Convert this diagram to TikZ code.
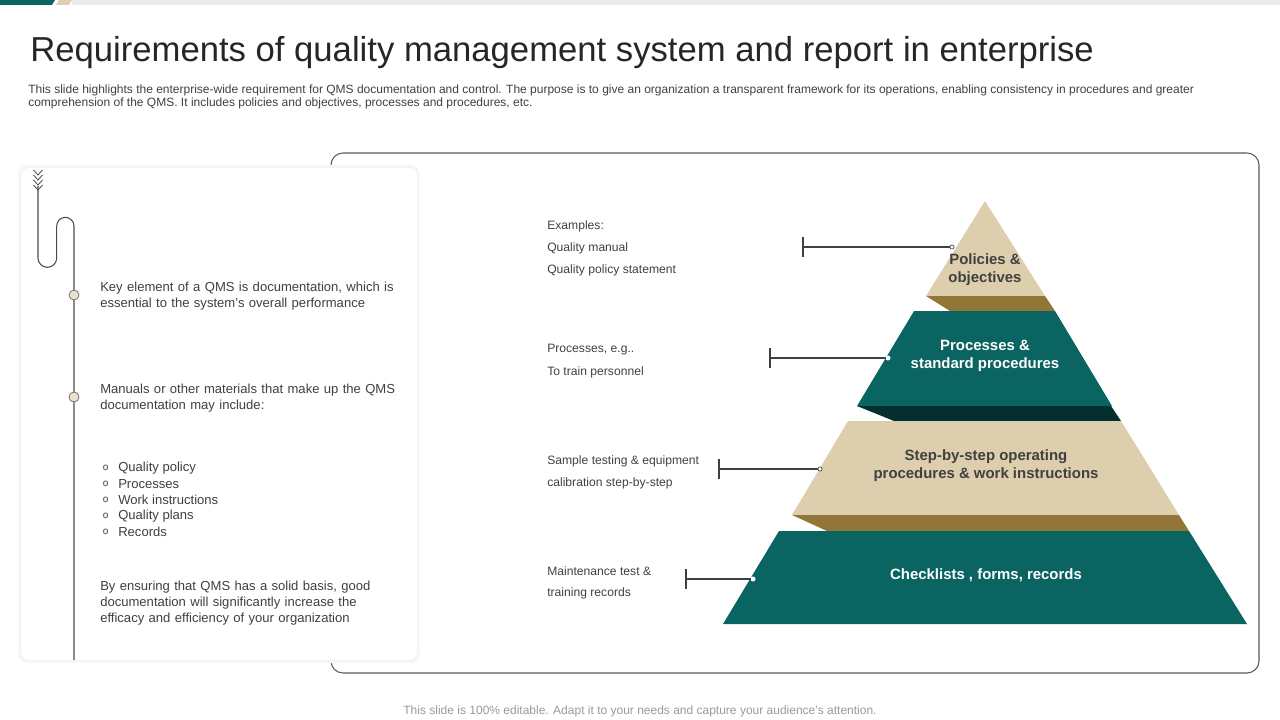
\documentclass[tikz,border=0pt]{standalone}
\usepackage{fontspec}
\setmainfont{Liberation Sans}
\usetikzlibrary{positioning, calc}

\definecolor{qteal}{HTML}{0A6462}
\definecolor{qtealdark}{HTML}{03302F}
\definecolor{qbeige}{HTML}{DDCFAD}
\definecolor{qbrown}{HTML}{927637}
\definecolor{qtext}{HTML}{404040}
\definecolor{qgray}{HTML}{ECECEC}

\hyphenpenalty=10000
\exhyphenpenalty=10000

\begin{document}
\begin{tikzpicture}[x=0.75pt, y=-0.75pt, font=\small,
        tierlabel/.style={align=center, inner sep=0pt, font=\fontsize{11.2}{13.5}\selectfont\bfseries},
        note/.style={anchor=west, inner sep=0pt, text=qtext, font=\fontsize{9.1}{10}\selectfont},
        para/.style={anchor=base west, inner sep=0pt, text width=226pt, align=left, text=qtext, font=\fontsize{9.8}{12}\selectfont},
        ring/.style={circle, draw=qtext, fill=white, inner sep=0pt, minimum size=3.2pt, line width=0.5pt},
        knob/.style={circle, draw=black!55, fill=qbeige!60, inner sep=0pt, minimum size=7.5pt, line width=0.6pt},
        leader/.style={draw=qtext, line width=0.8pt}]

      \useasboundingbox (0,0) rectangle (1280,720);

      % 1. Header strip and title
      \fill[qgray] (72,0) rectangle (1280,5);
      \fill[qteal] (0,0) -- (55,0) -- (52,5) -- (0,5) -- cycle;
      \fill[qbeige] (59,0) -- (72,0) -- (69,5) -- (56,5) -- cycle;
      \node[anchor=base west, inner sep=0pt, font=\fontsize{26}{30}\selectfont, text=black!85] (title) at (30,62) {Requirements of quality management system and report in enterprise};
      \node[anchor=base west, inner sep=0pt, font=\fontsize{9}{10}\selectfont, text=qtext] (desc1) at (28,94) {This slide highlights the enterprise-wide requirement for QMS  documentation and control. The purpose is to give an organization a transparent framework for its operations, enabling consistency in procedures and greater};
      \node[anchor=base west, inner sep=0pt, font=\fontsize{9}{10}\selectfont, text=qtext] (desc2) at (28,107) {comprehension of the QMS.  It includes policies and objectives, processes and procedures, etc.};

      % 2. Right frame (behind the card)
      \draw[black!65, rounded corners=9pt, line width=0.8pt] (331,153) rectangle (1259,673);

      % 3. Left card with timeline
      \fill[black!3, rounded corners=7pt] (18,165) rectangle (420,663);
      \fill[black!5, rounded corners=6pt] (20,167) rectangle (418,661);
      \fill[white, rounded corners=6pt] (21,168) rectangle (417,660);
      \foreach \i in {0,...,3}
        \draw[black!70, line width=0.6pt] (33.5,170+5*\i) -- (38,175+5*\i) -- (42.5,170+5*\i);
      \draw[black!70, line width=0.8pt] (38,186) -- (38,258)
        arc[start angle=180, end angle=0, radius=9.35] -- (56.7,226)
        arc[start angle=180, end angle=360, radius=8.65] -- (74,660);
      \node[knob] (k1) at (74,295) {};
      \node[knob] (k2) at (74,397) {};

      \node[para] (p1) at (100,291) {Key element of a QMS is documentation, which is essential to the system's overall  performance};
      \node[para] (p2) at (100,393) {Manuals or other materials that make up the QMS documentation may include:};
      \foreach \t [count=\k] in {Quality policy, Processes, Work instructions, Quality plans, Records} {
        \node[anchor=west, inner sep=0pt, text=qtext, font=\fontsize{9.8}{12}\selectfont] (b\k) at (118,452+16*\k) {\t};
        \node[left=7pt of b\k.west, inner sep=0pt, text=qtext, font=\fontsize{7.5}{8}\selectfont] (o\k) {o};
      }
      \node[para] (p3) at (100,590) {By ensuring that QMS has a solid basis, good documentation will significantly increase the efficacy and efficiency of your organization};

      % 4. Pyramid
      \fill[qbeige] (985,201) -- (1045,296) -- (926,296) -- cycle;
      \fill[qbrown] (926,296) -- (1045,296) -- (1055,311) -- (950,311) -- cycle;
      \fill[qteal] (914,311) -- (1055,311) -- (1112,406) -- (857,406) -- cycle;
      \fill[qtealdark] (857,406) -- (1111,406) -- (1121,421) -- (894,421) -- cycle;
      \fill[qbeige] (848,421) -- (1121,421) -- (1179,515) -- (792,515) -- cycle;
      \fill[qbrown] (792,515) -- (1179,515) -- (1189,531) -- (827,531) -- cycle;
      \fill[qteal] (779,531) -- (1189,531) -- (1247,624) -- (723,624) -- cycle;

      \node[tierlabel, text=black!75] (tier1) at (985,270) {Policies \&\\objectives};
      \node[tierlabel, text=white] (tier2) at (985,356) {Processes \&\\standard procedures};
      \node[tierlabel, text=black!75] (tier3) at (986,466) {Step-by-step operating\\procedures \& work instructions};
      \node[tierlabel, text=white] (tier4) at (986,575) {Checklists , forms, records};

      % 5. Notes and leaders
      \node[note] (n1a) at (547,226) {Examples:};
      \node[note] (n1b) at (547,248) {Quality manual};
      \node[note] (n1c) at (547,270) {Quality policy statement};
      \node[note] (n2a) at (547,350) {Processes, e.g..};
      \node[note] (n2b) at (547,372) {To train personnel};
      \node[note] (n3a) at (547,461) {Sample testing \& equipment};
      \node[note] (n3b) at (547,483) {calibration step-by-step};
      \node[note] (n4a) at (547,571) {Maintenance test \&};
      \node[note] (n4b) at (547,593) {training records};

      \coordinate (l1) at (803,247);
      \coordinate (l2) at (770,358);
      \coordinate (l3) at (719,469);
      \coordinate (l4) at (686,579);
      \node[ring] (r1) at (952,247) {};
      \node[ring, draw=white] (r2) at (888,358) {};
      \node[ring] (r3) at (820,469) {};
      \node[ring, draw=white] (r4) at (753,579) {};
      \foreach \k in {1,...,4} {
        \draw[leader] (l\k) -- (r\k);
        \draw[leader] ($(l\k)+(0,-10)$) -- ($(l\k)+(0,10)$);
      }

      % 6. Footer
      \node[font=\fontsize{9}{10}\selectfont, text=black!40] (foot) at (640,711) {This slide is 100\% editable. Adapt it to your needs and capture your audience's attention.};
    \end{tikzpicture}
\end{document}
